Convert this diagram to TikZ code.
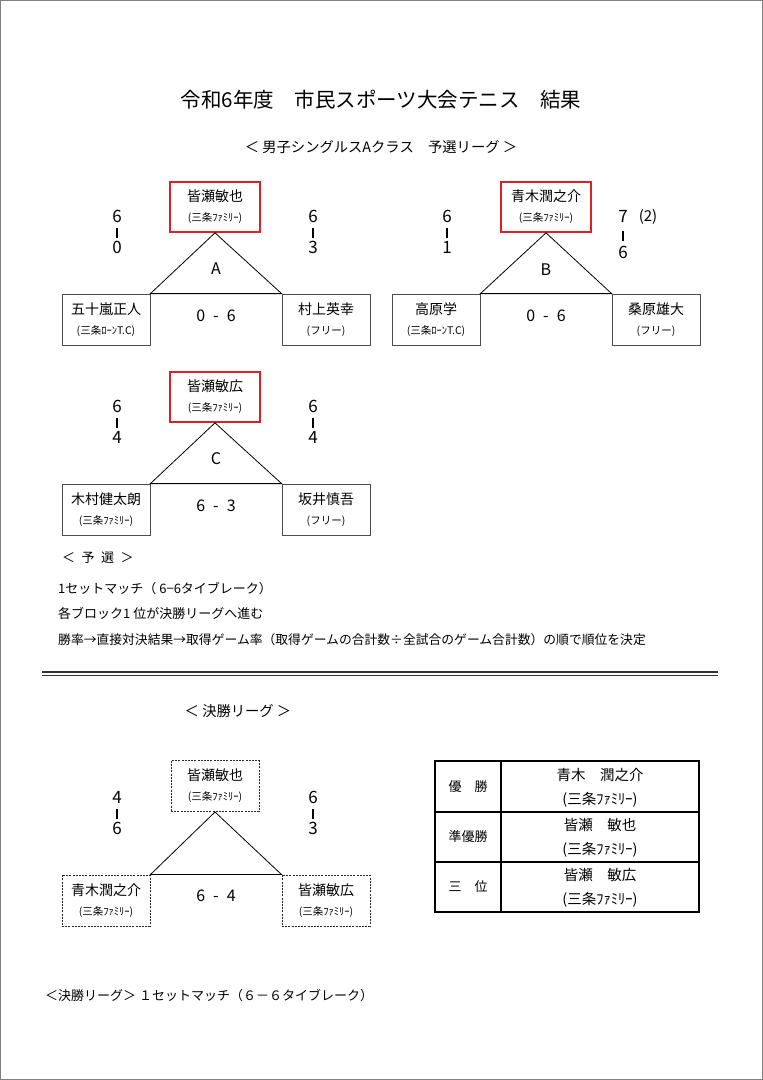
\documentclass[tikz,border=0pt]{standalone}
\usepackage{fontspec}
\setmainfont{Noto Sans CJK JP}
\usetikzlibrary{positioning,calc}
\definecolor{seedred}{RGB}{222,32,36}

\tikzset{
  seed/.style={draw=seedred, line width=1.7pt, minimum width=90pt, minimum height=50pt, align=center, inner sep=0pt, font=\fontsize{14}{20}\selectfont},
  entrant/.style={draw=black!70, line width=0.8pt, minimum width=88pt, minimum height=51pt, align=center, inner sep=0pt, font=\fontsize{14}{20}\selectfont},
  finalist/.style={entrant, draw=black!85, line width=1pt, dash pattern=on 2pt off 1.2pt},
  score/.style={align=center, inner sep=0pt, font=\fontsize{17}{15.5}\selectfont},
  result/.style={inner sep=0pt, font=\fontsize{16}{16}\selectfont},
  note/.style={anchor=west, inner sep=0pt, font=\fontsize{13}{14}\selectfont},
  cellname/.style={align=center, inner sep=0pt, font=\fontsize{14.5}{24}\selectfont},
}
\newcommand{\club}[1]{{\fontsize{10.5}{20}\selectfont #1}}
\newcommand{\scorebar}{\rule{1.1pt}{10pt}}
\newcommand{\game}[2]{#1\enspace-\enspace#2}

\begin{document}
\begin{tikzpicture}[x = 1pt, y = -1pt]
\useasboundingbox (0,0) rectangle (763,1080);
\draw[black!50, line width=1pt] (0.5,0.5) rectangle (762.5,1079.5);

\node[font=\fontsize{20.5}{22}\selectfont] (title) at (381,100) {令和6年度　市民スポーツ大会テニス　結果};
\node[font=\fontsize{14.3}{15}\selectfont] (league) at (381,147) {＜ 男子シングルスAクラス　予選リーグ ＞};

% block A
\node[seed] (topA) at (215,207) {皆瀬敏也\\\club{(三条ﾌｧﾐﾘｰ)}};
\node[entrant] (leftA) at (106,319.5) {五十嵐正人\\\club{(三条ﾛｰﾝT.C)}};
\node[entrant] (rightA) at (326,319.5) {村上英幸\\\club{(フリー)}};
\draw[line width=0.8pt] (topA.south) -- (leftA.north east) -- (rightA.north west) -- cycle;
\node[score] (scAl) at (117,232) {6\\\scorebar\\0};
\node[score] (scAr) at (313,232) {6\\\scorebar\\3};
\node[result] (nameA) at (216,269) {A};
\node[result] (resA) at (216,316) {\game{0}{6}};

% block B
\node[seed] (topB) at (546,207) {青木潤之介\\\club{(三条ﾌｧﾐﾘｰ)}};
\node[entrant] (leftB) at (436,319.5) {高原学\\\club{(三条ﾛｰﾝT.C)}};
\node[entrant] (rightB) at (656,319.5) {桑原雄大\\\club{(フリー)}};
\draw[line width=0.8pt] (topB.south) -- (leftB.north east) -- (rightB.north west) -- cycle;
\node[score] (scBl) at (447,232) {6\\\scorebar\\1};
\node[score, font=\fontsize{17}{18}\selectfont] (scBr) at (623,235) {7\\\scorebar\\6};
\node[score, font=\fontsize{15}{15}\selectfont] (scBx) at (648,217) {(2)};
\node[result] (nameB) at (546,270) {B};
\node[result] (resB) at (546,316) {\game{0}{6}};

% block C
\node[seed] (topC) at (215,397) {皆瀬敏広\\\club{(三条ﾌｧﾐﾘｰ)}};
\node[entrant] (leftC) at (106,509.5) {木村健太朗\\\club{(三条ﾌｧﾐﾘｰ)}};
\node[entrant] (rightC) at (326,509.5) {坂井慎吾\\\club{(フリー)}};
\draw[line width=0.8pt] (topC.south) -- (leftC.north east) -- (rightC.north west) -- cycle;
\node[score] (scCl) at (117,422) {6\\\scorebar\\4};
\node[score] (scCr) at (313,422) {6\\\scorebar\\4};
\node[result] (nameC) at (216,459) {C};
\node[result] (resC) at (216,506) {\game{6}{3}};

% rules of the first round
\node[note] (rules) at (62,558) {＜\enspace 予\enspace 選\enspace ＞};
\node[note] (rule1) at (58,589) {1セットマッチ（ 6−6タイブレーク）};
\node[note] (rule2) at (58,613) {各ブロック1 位が決勝リーグへ進む};
\node[note, font=\fontsize{12.8}{14}\selectfont] (rule3) at (58,640) {勝率→直接対決結果→取得ゲーム率（取得ゲームの合計数÷全試合のゲーム合計数）の順で順位を決定};

\draw[black!80, line width=1.3pt] (42,672) -- (718,672);
\draw[black!80, line width=1.3pt] (42,675.8) -- (718,675.8);

% final league
\node[font=\fontsize{14.3}{15}\selectfont] (final) at (238,711) {＜ 決勝リーグ ＞};
\node[finalist] (topF) at (215,786) {皆瀬敏也\\\club{(三条ﾌｧﾐﾘｰ)}};
\node[finalist] (leftF) at (106,900.5) {青木潤之介\\\club{(三条ﾌｧﾐﾘｰ)}};
\node[finalist] (rightF) at (326,900.5) {皆瀬敏広\\\club{(三条ﾌｧﾐﾘｰ)}};
\draw[line width=0.8pt] (topF.south) -- (leftF.north east) -- (rightF.north west) -- cycle;
\node[score] (scFl) at (117,813) {4\\\scorebar\\6};
\node[score] (scFr) at (313,813) {6\\\scorebar\\3};
\node[result] (resF) at (216,896) {\game{6}{4}};

% ranking table
\draw[line width=2pt] (435,761) rectangle (699,912);
\draw[line width=1.3pt] (501,761) -- (501,912);
\draw[line width=1.3pt] (435,812) -- (699,812);
\draw[line width=1.3pt] (435,862) -- (699,862);
\node[cellname, font=\fontsize{13}{14}\selectfont] (first) at (468,786.5) {優　勝};
\node[cellname, font=\fontsize{13}{14}\selectfont] (second) at (468,837) {準優勝};
\node[cellname, font=\fontsize{13}{14}\selectfont] (third) at (468,887) {三　位};
\node[cellname] (champ) at (600,787.5) {青木　潤之介\\(三条ﾌｧﾐﾘｰ)};
\node[cellname] (runner) at (600,837.5) {皆瀬　敏也\\(三条ﾌｧﾐﾘｰ)};
\node[cellname] (bronze) at (600,887.5) {皆瀬　敏広\\(三条ﾌｧﾐﾘｰ)};

\node[note] (footer) at (45,996) {＜決勝リーグ＞ １セットマッチ（６－６タイブレーク）};

\end{tikzpicture}
\end{document}
